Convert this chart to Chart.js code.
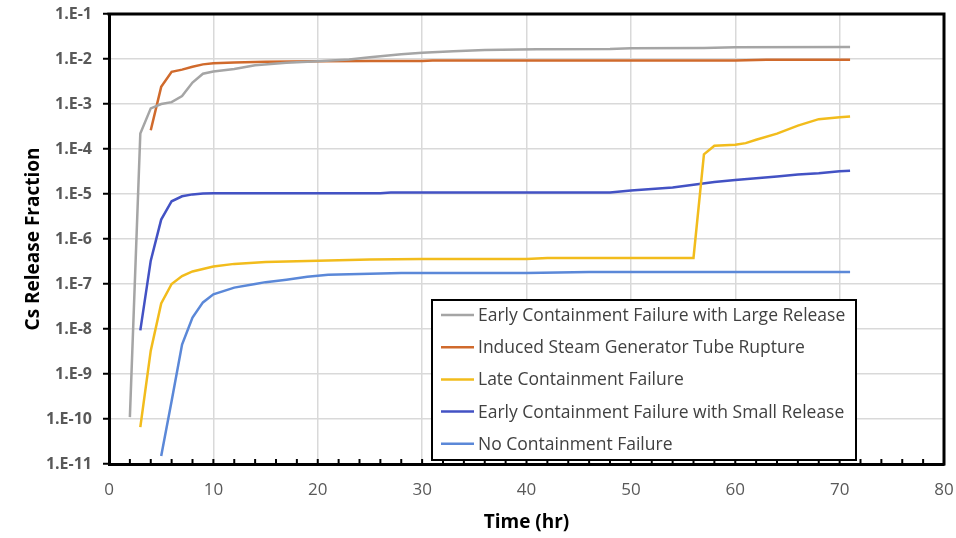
<!DOCTYPE html>
<html>
<head>
<meta charset="utf-8">
<script src="https://cdn.jsdelivr.net/npm/chart.js@4.4.1/dist/chart.umd.min.js"></script>
<style>
html,body{margin:0;padding:0;background:#fff;}
#wrap{width:956px;height:538px;position:relative;}
</style>
</head>
<body>
<div id="wrap"><canvas id="c" width="956" height="538"></canvas></div>
<script>
// ---- Data ----
const seriesNames = [
  "Early Containment Failure with Large Release",
  "Induced Steam Generator Tube Rupture",
  "Late Containment Failure",
  "Early Containment Failure with Small Release",
  "No Containment Failure"
];
const seriesColors = ["#A5A5A5", "#D06A2C", "#F2BC1C", "#4352C4", "#5B88D8"];

const largeTime  = [2,3,4,5,6,7,8,9,10,12,14,17,20,23,25,28,30,33,36,41,48,50,57,60,71];
const largeValue = [1.1e-10,2.2e-4,8.0e-4,1.0e-3,1.1e-3,1.5e-3,3.0e-3,4.7e-3,5.3e-3,6.0e-3,7.3e-3,8.3e-3,8.9e-3,9.8e-3,1.1e-2,1.28e-2,1.38e-2,1.48e-2,1.58e-2,1.65e-2,1.67e-2,1.73e-2,1.75e-2,1.82e-2,1.85e-2];

const sgtrTime  = [4,5,6,7,8,9,10,12,15,20,25,30,31,40,50,60,63,71];
const sgtrValue = [2.6e-4,2.4e-3,5.2e-3,5.8e-3,6.7e-3,7.6e-3,8.0e-3,8.4e-3,8.7e-3,8.9e-3,9.0e-3,9.0e-3,9.3e-3,9.3e-3,9.3e-3,9.3e-3,9.6e-3,9.6e-3];

const lateTime  = [3,4,5,6,7,8,10,12,15,20,25,30,40,42,45,50,56,57,58,60,61,62,64,66,68,70,71];
const lateValue = [6.6e-11,3.3e-9,3.7e-8,1.0e-7,1.5e-7,1.9e-7,2.45e-7,2.8e-7,3.1e-7,3.3e-7,3.5e-7,3.6e-7,3.6e-7,3.8e-7,3.8e-7,3.8e-7,3.8e-7,7.6e-5,1.18e-4,1.24e-4,1.35e-4,1.6e-4,2.2e-4,3.3e-4,4.6e-4,5.1e-4,5.3e-4];

const smallTime  = [3,4,5,6,7,8,9,10,15,20,26,27,30,40,48,50,54,56,58,60,62,64,66,68,70,71];
const smallValue = [9.3e-9,3.3e-7,2.7e-6,6.9e-6,8.9e-6,9.8e-6,1.02e-5,1.04e-5,1.04e-5,1.04e-5,1.04e-5,1.08e-5,1.08e-5,1.08e-5,1.08e-5,1.2e-5,1.4e-5,1.6e-5,1.85e-5,2.05e-5,2.25e-5,2.45e-5,2.7e-5,2.9e-5,3.2e-5,3.3e-5];

const noneTime  = [5,6,7,8,9,10,12,14,15,17,19,21,23,25,28,30,40,46,50,60,71];
const noneValue = [1.5e-11,2.5e-10,4.5e-9,1.8e-8,3.9e-8,5.9e-8,8.3e-8,1.0e-7,1.1e-7,1.25e-7,1.45e-7,1.6e-7,1.65e-7,1.7e-7,1.75e-7,1.75e-7,1.75e-7,1.85e-7,1.85e-7,1.85e-7,1.85e-7];

const xTicks = [0,10,20,30,40,50,60,70,80];
const yDecades = [-11,-10,-9,-8,-7,-6,-5,-4,-3,-2,-1];

function pts(t, v){ return t.map((x,i)=>({x:x, y:v[i]})); }
const allTimes = [largeTime, sgtrTime, lateTime, smallTime, noneTime];
const allValues = [largeValue, sgtrValue, lateValue, smallValue, noneValue];

const datasets = seriesNames.map((n,i)=>({
  label: n,
  data: pts(allTimes[i], allValues[i]),
  borderColor: seriesColors[i],
  backgroundColor: seriesColors[i],
  borderWidth: 2.5,
  pointRadius: 0,
  tension: 0,
  fill: false
}));

const frame = {
  id: 'frame',
  afterDatasetsDraw(chart){
    const ctx = chart.ctx, a = chart.chartArea, xs = chart.scales.x;
    ctx.save();
    // minor ticks on the x axis (inward)
    ctx.strokeStyle = '#000'; ctx.lineWidth = 2;
    for (let t = 2; t < 80; t += 2){
      const px = xs.getPixelForValue(t);
      ctx.beginPath(); ctx.moveTo(px, a.bottom); ctx.lineTo(px, a.bottom - 5); ctx.stroke();
    }
    // top and right border
    ctx.lineWidth = 3;
    ctx.beginPath();
    ctx.moveTo(a.left - 1.5, a.top); ctx.lineTo(a.right, a.top); ctx.lineTo(a.right, a.bottom + 1.5);
    ctx.stroke();
    // legend box
    const bx = 432, by = 300, bw = 424, bh = 160;
    ctx.fillStyle = '#fff';
    ctx.fillRect(bx, by, bw, bh);
    ctx.lineWidth = 2; ctx.strokeStyle = '#000';
    ctx.strokeRect(bx, by, bw, bh);
    ctx.font = '17.5px "Open Sans"';
    ctx.textBaseline = 'middle';
    chart.data.datasets.forEach((d,i)=>{
      const cy = 315 + i*32.2;
      ctx.strokeStyle = d.borderColor; ctx.lineWidth = 2.5;
      ctx.beginPath(); ctx.moveTo(441, cy); ctx.lineTo(474, cy); ctx.stroke();
      ctx.fillStyle = '#404040';
      ctx.fillText(d.label, 478, cy + 1);
    });
    ctx.restore();
  }
};

new Chart(document.getElementById('c'), {
  type: 'line',
  data: { datasets },
  options: {
    responsive: false,
    animation: false,
    layout: { padding: { top: 14, right: 12, left: 0, bottom: 0 } },
    plugins: { legend: { display: false }, tooltip: { enabled: false } },
    scales: {
      x: {
        type: 'linear', min: 0, max: 80,
        afterBuildTicks(s){ s.ticks = xTicks.map(v=>({value:v})); },
        afterFit(s){ s.height = 74; s.paddingLeft = 0; s.paddingRight = 0; },
        ticks: { color: '#595959', font: { family: '"Open Sans"', size: 17 }, padding: 16, maxRotation: 0,
                 callback: v => String(v) },
        grid: { color: '#d9d9d9', lineWidth: 1.5, drawTicks: false },
        border: { color: '#000', width: 3 },
        title: { display: true, text: 'Time (hr)', color: '#000',
                 font: { family: '"Open Sans"', size: 19, weight: 'bold' }, padding: { top: 0, bottom: 4 } }
      },
      y: {
        type: 'logarithmic', min: 1e-11, max: 1e-1,
        afterBuildTicks(s){ s.ticks = yDecades.map(e=>({value: Math.pow(10, e)})); },
        afterFit(s){ s.width = 109; s.paddingTop = 0; s.paddingBottom = 0; },
        ticks: { color: '#595959', font: { family: '"Open Sans"', size: 16, weight: 'bold' }, padding: 11,
                 callback: v => '1.E' + Math.round(Math.log10(v)) },
        grid: { color: '#d9d9d9', lineWidth: 1.5, drawTicks: true, tickLength: 6, tickColor: '#000', tickWidth: 2 },
        border: { color: '#000', width: 3 },
        title: { display: true, text: 'Cs Release Fraction', color: '#000',
                 font: { family: '"Open Sans"', size: 19, weight: 'bold' }, padding: { top: 22, bottom: 0 } }
      }
    }
  },
  plugins: [frame]
});
</script>
</body>
</html>
